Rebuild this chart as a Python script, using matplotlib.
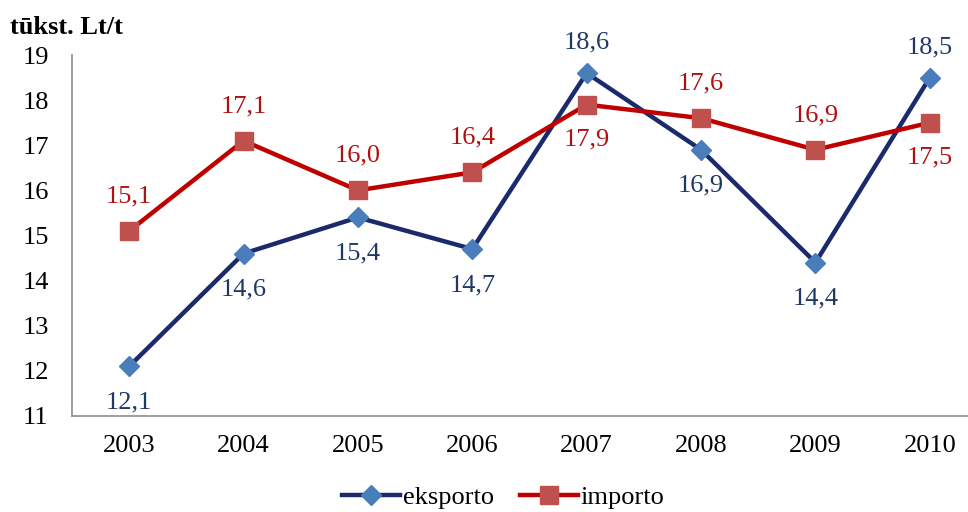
import matplotlib.pyplot as plt

# Data
years = ['2003', '2004', '2005', '2006', '2007', '2008', '2009', '2010']
eksporto = [12.1, 14.6, 15.4, 14.7, 18.6, 16.9, 14.4, 18.5]
importo = [15.1, 17.1, 16.0, 16.4, 17.9, 17.6, 16.9, 17.5]

# label placement: True -> above the point
eks_above = [False, False, False, False, True, False, False, True]
imp_above = [True, True, True, True, False, True, True, False]

plt.rcParams['font.family'] = ['Liberation Serif', 'DejaVu Serif']

fig = plt.figure(figsize=(9.68, 5.12), dpi=100)
ax = fig.add_axes([72 / 968, 96 / 512, 915 / 968, 361 / 512])

x = list(range(len(years)))
ax.plot(x, eksporto, color='#1a2a6c', lw=3.2, marker='D', markersize=10,
        markerfacecolor='#4a7ebb', markeredgecolor='#4a7ebb', label='eksporto', zorder=3)
ax.plot(x, importo, color='#c00000', lw=3.2, marker='s', markersize=13,
        markerfacecolor='#c0504d', markeredgecolor='#c0504d', label='importo', zorder=3)

def fmt(v):
    return f'{v:.1f}'.replace('.', ',')

for i, v in enumerate(eksporto):
    off = 22 if eks_above[i] else -26
    ax.annotate(fmt(v), (i, v), xytext=(0, off), textcoords='offset points',
                ha='center', va='center', fontsize=19, color='#1f3864')
for i, v in enumerate(importo):
    off = 25 if imp_above[i] else -25
    ax.annotate(fmt(v), (i, v), xytext=(0, off), textcoords='offset points',
                ha='center', va='center', fontsize=19, color='#b01010')

ax.set_xlim(-0.5, 7.5)
ax.set_ylim(11, 19)
ax.set_yticks(range(11, 20))
ax.set_xticks(x)
ax.set_xticklabels(years)
ax.tick_params(axis='both', length=0, labelsize=19)
ax.tick_params(axis='y', pad=26)
ax.tick_params(axis='x', pad=14)
for lbl in ax.get_yticklabels():
    lbl.set_horizontalalignment('center')

for s in ['top', 'right']:
    ax.spines[s].set_visible(False)
for s in ['left', 'bottom']:
    ax.spines[s].set_color('#8c8c8c')
    ax.spines[s].set_linewidth(1.2)

fig.text(10 / 968, 1 - 28 / 512, 'tūkst. Lt/t', fontsize=19, fontweight='bold',
         ha='left', va='center')

fig.legend(loc='center', bbox_to_anchor=(0.52, 1 - 497 / 512), ncol=2, frameon=False,
           fontsize=19, handlelength=2.2, columnspacing=1.0, handletextpad=0.1)

fig.savefig('out.png', dpi=100)
